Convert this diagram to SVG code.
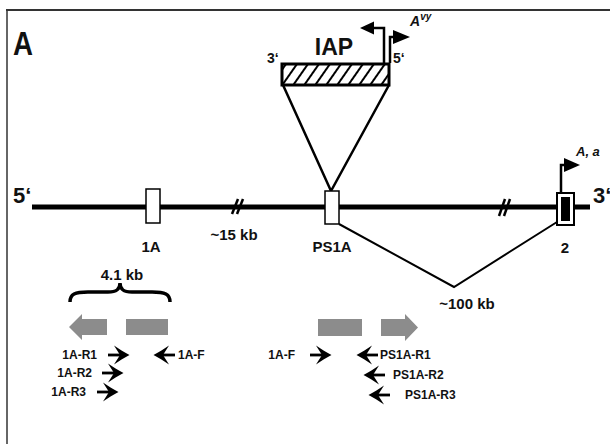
<svg xmlns="http://www.w3.org/2000/svg" xmlns:xlink="http://www.w3.org/1999/xlink" width="610" height="444" viewBox="0 0 610 444">
<style>
text{font-family:"Liberation Sans",Arial,sans-serif;font-weight:bold;fill:#111}
.lbl{font-size:15px}
.pr{font-size:12px}
.ln{stroke:#000;fill:none}
.gray{fill:#8c8c8c}
</style>
<defs>
<pattern id="hatch" width="9" height="9" patternUnits="userSpaceOnUse" patternTransform="rotate(35)">
<rect width="9" height="9" fill="#fff"/>
<line x1="1" y1="0" x2="1" y2="9" stroke="#000" stroke-width="2"/>
</pattern>
<g id="primer">
<line x1="-20" y1="0" x2="-4" y2="0" stroke="#000" stroke-width="2.8"/>
<path d="M1.5,0 C-4,-3 -9,-6 -14,-9.5 L-8,0 L-14,9.5 C-9,6 -4,3 1.5,0 Z" fill="#000"/>
</g>
</defs>
<rect width="610" height="444" fill="#fff"/>
<g id="frame">
<line x1="6" y1="10" x2="610" y2="10" stroke="#333" stroke-width="2"/>
<line x1="7" y1="10" x2="7" y2="444" stroke="#333" stroke-width="1.5"/>
</g>
<text x="13" y="55" font-size="34" textLength="20" lengthAdjust="spacingAndGlyphs">A</text>

<g id="connectors">
<line class="ln" x1="32" y1="207" x2="590" y2="207" stroke-width="5"/>
<line class="ln" x1="232" y1="214" x2="238" y2="199" stroke-width="2.5"/>
<line class="ln" x1="237" y1="214" x2="243" y2="199" stroke-width="2.5"/>
<line class="ln" x1="499" y1="216" x2="505" y2="199" stroke-width="2.5"/>
<line class="ln" x1="504" y1="216" x2="510" y2="199" stroke-width="2.5"/>
<polyline class="ln" points="283,85 331,191 389,85" stroke-width="2.5"/>
<polyline class="ln" points="339,224 454,287 557,222" stroke-width="2"/>
</g>

<g id="labels-ends">
<text x="13" y="203" font-size="22">5‘</text>
<text x="593" y="203" font-size="22">3‘</text>
</g>

<g id="IAP">
<rect x="282" y="64" width="107" height="21" fill="url(#hatch)" stroke="#000" stroke-width="3"/>
<text x="334" y="55" font-size="23" text-anchor="middle">IAP</text>
<text x="267" y="63" font-size="14">3‘</text>
<text x="393" y="63" font-size="14">5‘</text>
<path class="ln" d="M384,63 V28 H372" stroke-width="2.5"/>
<path d="M360,28 L374,21.5 L374,34.5 Z" fill="#000"/>
<path class="ln" d="M390,63 V37 H394" stroke-width="2.5"/>
<path d="M410,37 L393,30 L393,44 Z" fill="#000"/>
<text x="410" y="26" font-size="14" font-style="italic">A<tspan font-size="10" dy="-6">vy</tspan></text>
</g>

<g id="exon-1A">
<rect x="146" y="189" width="14" height="34" fill="#fff" stroke="#000" stroke-width="1.5"/>
<text class="lbl" x="151" y="252" text-anchor="middle">1A</text>
</g>
<text class="lbl" x="234" y="240" text-anchor="middle">~15 kb</text>

<g id="exon-PS1A">
<rect x="325" y="191" width="14" height="33" fill="#fff" stroke="#000" stroke-width="1.5"/>
<text class="lbl" x="332" y="252" text-anchor="middle">PS1A</text>
</g>

<g id="exon-2">
<rect x="557" y="193" width="17" height="32" fill="#fff" stroke="#000" stroke-width="2"/>
<rect x="561" y="197" width="9" height="24" fill="#000"/>
<text class="lbl" x="565" y="253" text-anchor="middle">2</text>
<path class="ln" d="M561,193 V165 H565" stroke-width="2.5"/>
<path d="M580,165 L564,158 L564,172 Z" fill="#000"/>
<text x="576" y="156" font-size="13" font-style="italic">A, a</text>
</g>

<text class="lbl" x="467" y="309" text-anchor="middle">~100 kb</text>

<g id="region-1A">
<text class="lbl" x="122" y="280" text-anchor="middle">4.1 kb</text>
<path class="ln" stroke-width="3.5" d="M70,302 C70,294 75,292 88,292 L108,292 C116,292 120,290 120,283 C120,290 124,292 132,292 L152,292 C165,292 170,294 170,302"/>
<path class="gray" d="M69,327 L82,314 L82,319 L107,319 L107,335 L82,335 L82,340 Z"/>
<rect class="gray" x="126" y="319" width="42" height="16"/>
<use xlink:href="#primer" transform="translate(128,355)"/>
<use xlink:href="#primer" transform="translate(122,373)"/>
<use xlink:href="#primer" transform="translate(117,392)"/>
<use xlink:href="#primer" transform="translate(155,355) scale(-1,1)"/>
<text class="pr" x="97" y="359" text-anchor="end">1A-R1</text>
<text class="pr" x="92" y="377" text-anchor="end">1A-R2</text>
<text class="pr" x="86" y="396" text-anchor="end">1A-R3</text>
<text class="pr" x="178" y="359">1A-F</text>
</g>

<g id="region-PS1A">
<rect class="gray" x="318" y="319" width="44" height="17"/>
<path class="gray" d="M381,319 L405,319 L405,314 L418,327.5 L405,341 L405,336 L381,336 Z"/>
<use xlink:href="#primer" transform="translate(330,355)"/>
<use xlink:href="#primer" transform="translate(358,355) scale(-1,1)"/>
<use xlink:href="#primer" transform="translate(365,375) scale(-1,1)"/>
<use xlink:href="#primer" transform="translate(370,395) scale(-1,1)"/>
<text class="pr" x="295" y="359" text-anchor="end">1A-F</text>
<text class="pr" x="380" y="359">PS1A-R1</text>
<text class="pr" x="393" y="379">PS1A-R2</text>
<text class="pr" x="405" y="399">PS1A-R3</text>
</g>
</svg>
